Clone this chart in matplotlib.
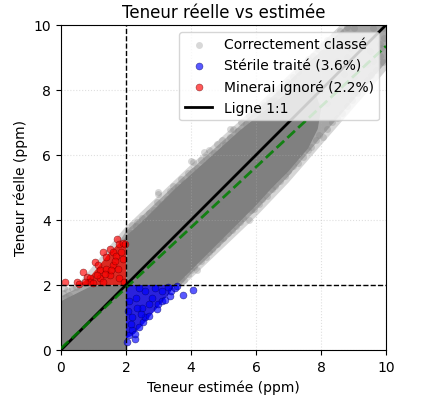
import matplotlib
matplotlib.use('Agg')
import matplotlib.pyplot as plt

# correctly classified cloud, read from the picture as three nested outlines
# (outer light fringe, medium band, dense core)
halo_x = [0, 0, 0.5, 2.0, 3.0, 4.0, 5.0, 6.0, 7.0, 8.0, 8.6, 10,
          10, 9.0, 8.0, 7.0, 6.0, 5.0, 4.0, 3.8, 2.0, 2.0]
halo_y = [0, 1.8, 2.0, 3.8, 4.75, 5.7, 6.6, 7.5, 8.45, 9.4, 10, 10,
          8.6, 7.45, 6.3, 5.15, 4.1, 3.15, 2.2, 2.0, 2.0, 0]

mid_x = [0, 0, 0.5, 1.0, 2.0, 3.0, 4.0, 5.0, 6.0, 7.0, 8.0, 8.8, 10,
         10, 9.0, 8.0, 7.0, 6.0, 5.0, 4.0, 3.7, 2.0, 2.0]
mid_y = [0, 1.65, 1.9, 2.1, 3.65, 4.6, 5.55, 6.45, 7.35, 8.25, 9.2, 10, 10,
         8.85, 7.7, 6.55, 5.35, 4.3, 3.3, 2.35, 2.0, 2.0, 0]

core_x = [0, 0, 0.5, 1.0, 1.5, 2.0, 2.5, 3.0, 3.5, 4.0, 4.5, 5.0, 5.5, 6.0, 6.5, 7.0, 7.5, 7.8, 8.0, 7.9, 7.6,
          7.0, 6.5, 6.0, 5.5, 5.0, 4.5, 4.0, 3.6, 3.5, 2.0, 2.0]
core_y = [0, 1.5, 1.75, 2.0, 2.6, 3.5, 3.95, 4.45, 4.95, 5.4, 5.85, 6.3, 6.75, 7.15, 7.55, 7.95, 8.2, 8.0, 7.4, 6.8, 6.2,
          5.5, 5.0, 4.45, 3.95, 3.45, 2.95, 2.45, 2.05, 2.0, 2.0, 0]

red_core_x = [0.5, 2.0, 2.0, 1.8, 1.65, 1.45, 1.3, 1.1, 0.85, 0.65]
red_core_y = [2.0, 2.0, 3.3, 3.3, 3.15, 2.95, 2.75, 2.5, 2.2, 2.07]

blue_core_x = [2.0, 3.5, 3.35, 3.05, 2.75, 2.45, 2.2, 2.0]
blue_core_y = [2.0, 2.0, 1.75, 1.4, 1.05, 0.7, 0.45, 0.35]

# single points around the cores
gray_x = [0.05, 0.2, 0.35, 0.25, 0.45, 0.15, 0.1,
          2.05, 2.15, 2.3, 2.35, 2.5, 2.6, 2.7, 2.85, 2.95, 3.0, 3.1, 3.25, 3.35, 3.45, 3.6, 3.7, 3.8, 3.9,
          4.0, 4.05, 4.2, 4.3, 4.45, 4.55, 4.7, 4.8, 4.95, 5.05, 5.2, 5.3, 5.45, 5.55, 5.7, 5.8, 5.95, 6.1,
          6.25, 6.4, 6.55, 6.7, 6.85, 7.0, 7.15, 7.3, 7.45, 7.6, 7.75, 7.9, 8.05, 8.2, 8.4, 8.6, 8.8, 9.0,
          3.6, 3.7, 3.8, 3.9, 4.0, 4.1, 4.2, 4.3, 4.45, 4.55, 4.65, 4.8, 4.9, 5.0, 5.15, 5.25, 5.4, 5.5,
          5.6, 5.77, 5.85, 5.95, 6.1, 6.2, 6.35, 6.5, 6.6, 6.75, 6.9, 7.0, 7.15, 7.3, 7.45, 7.6, 7.7, 7.85,
          7.95, 8.05, 8.2, 8.35, 8.5, 8.65, 8.8, 8.95, 9.1, 9.25, 9.4, 9.55, 9.7, 9.9, 9.8, 9.6, 9.85, 9.95,
          6.8, 7.0, 7.2, 7.4, 7.5, 7.6, 7.8, 7.9, 8.1, 8.2, 8.3, 8.5, 8.6, 8.7, 8.9, 9.0, 9.1, 9.3, 9.4,
          9.5, 9.7, 9.8, 9.9, 7.3, 8.0, 8.8, 9.6,
          3.0, 4.07, 5.2, 6.6, 2.2, 4.4]
gray_y = [1.75, 1.85, 1.9, 1.7, 1.95, 1.62, 1.9,
          3.7, 3.6, 3.8, 3.95, 4.05, 3.95, 4.2, 4.3, 4.55, 4.8, 4.5, 4.65, 4.9, 5.05, 5.0, 5.25, 5.15, 5.45,
          5.8, 5.5, 5.6, 5.85, 5.95, 6.15, 6.05, 6.35, 6.45, 6.3, 6.55, 6.8, 6.75, 7.0, 6.95, 7.2, 7.3, 7.35,
          7.55, 7.7, 7.65, 7.95, 8.1, 8.25, 8.4, 8.55, 8.8, 8.95, 9.05, 9.25, 9.4, 9.55, 9.7, 9.8, 9.95, 9.9,
          2.05, 2.2, 2.15, 2.35, 2.45, 2.55, 2.45, 2.75, 2.85, 3.0, 3.1, 3.25, 3.4, 3.45, 3.6, 3.7, 3.8, 3.95,
          4.05, 4.0, 4.3, 4.35, 4.5, 4.65, 4.75, 4.95, 5.05, 5.2, 5.35, 5.5, 5.65, 5.75, 5.95, 6.15, 6.25, 6.45,
          6.6, 6.55, 6.8, 7.0, 7.15, 7.3, 7.5, 7.7, 7.9, 8.05, 8.3, 8.45, 8.6, 8.86, 9.05, 8.9, 9.3, 9.6,
          6.5, 7.2, 6.6, 7.8, 7.2, 6.8, 8.2, 7.5, 8.7, 7.6, 8.1, 8.9, 8.0, 8.5, 9.3, 8.4, 8.9, 9.6, 8.8,
          9.2, 9.7, 9.4, 9.9, 7.0, 8.0, 9.0, 9.9,
          4.85, 5.78, 6.8, 7.7, 3.85, 6.1]

red_x = [0.12, 0.48, 0.55, 0.69, 0.8, 1.05, 1.15, 1.30, 1.4, 1.5, 1.6, 1.71, 1.8, 1.9, 1.97, 0.9, 1.2, 1.7,
         0.9, 1.2, 1.5, 1.8, 1.6, 1.9, 1.4, 1.75, 1.95, 1.3, 1.1, 1.85, 1.65, 1.35, 1.55, 1.0, 0.75]
red_y = [2.1, 2.08, 2.02, 2.39, 2.25, 2.7, 2.6, 3.0, 2.85, 3.1, 3.0, 3.42, 3.25, 3.3, 3.26, 2.2, 2.45, 2.9,
         2.1, 2.2, 2.3, 2.2, 2.6, 2.8, 2.5, 2.5, 2.1, 2.1, 2.3, 3.0, 2.75, 2.35, 2.45, 2.05, 2.1]

blue_x = [2.02, 2.28, 2.1, 2.2, 2.28, 2.4, 2.53, 2.6, 2.7, 2.94, 3.0, 3.1, 3.2, 3.35, 3.4, 3.5, 3.56, 3.75, 4.06,
          2.2, 2.5, 2.8, 3.1, 2.3, 2.6, 2.1, 2.4, 2.7, 2.9, 2.15, 2.45, 3.3, 2.05, 2.35]
blue_y = [0.24, 0.34, 0.45, 0.6, 0.49, 0.7, 0.86, 1.0, 1.05, 1.26, 1.4, 1.5, 1.55, 1.66, 1.8, 1.9, 1.98, 1.69, 1.86,
          1.0, 1.3, 1.6, 1.8, 1.6, 1.8, 1.5, 1.9, 1.4, 1.9, 0.8, 1.1, 1.95, 1.2, 1.3]

# regression line and cut-off
fit_x = [0, 10]
fit_y = [0.05, 9.35]
cutoff = 2.0

fig = plt.figure(figsize=(4.22, 4.06), dpi=100)
ax = fig.add_axes([0.1445, 0.1355, 0.7702, 0.8005])

ax.fill(halo_x, halo_y, color='#d6d6d6', lw=0, zorder=1)
ax.fill(mid_x, mid_y, color='#a6a6a6', lw=0, zorder=1)
ax.fill(core_x, core_y, color='gray', lw=0, zorder=1)
ax.scatter(gray_x, gray_y, s=25, c='gray', alpha=0.3, lw=0, label='Correctement classé', zorder=1)

ax.fill(blue_core_x, blue_core_y, color='#2a22dc', lw=0, zorder=2)
ax.scatter(blue_x, blue_y, s=25, c='blue', alpha=0.65, edgecolors='#000060', linewidths=0.4,
           label='Stérile traité (3.6%)', zorder=2)

ax.fill(red_core_x, red_core_y, color='#dc2a22', lw=0, zorder=2)
ax.scatter(red_x, red_y, s=25, c='red', alpha=0.65, edgecolors='#600000', linewidths=0.4,
           label='Minerai ignoré (2.2%)', zorder=2)

ax.plot([0, 10], [0, 10], color='black', lw=2, label='Ligne 1:1', zorder=3)
ax.plot(fit_x, fit_y, color='green', lw=2, ls='--', alpha=0.85, zorder=3)
ax.axvline(cutoff, color='black', ls='--', lw=1, zorder=3)
ax.axhline(cutoff, color='black', ls='--', lw=1, zorder=3)

ax.set_xlim(0, 10)
ax.set_ylim(0, 10)
ax.set_xlabel('Teneur estimée (ppm)')
ax.set_ylabel('Teneur réelle (ppm)')
ax.set_title('Teneur réelle vs estimée')
ax.grid(True, ls=':', alpha=0.4)
ax.legend(loc='upper right')

fig.savefig('out.png', dpi=100)
